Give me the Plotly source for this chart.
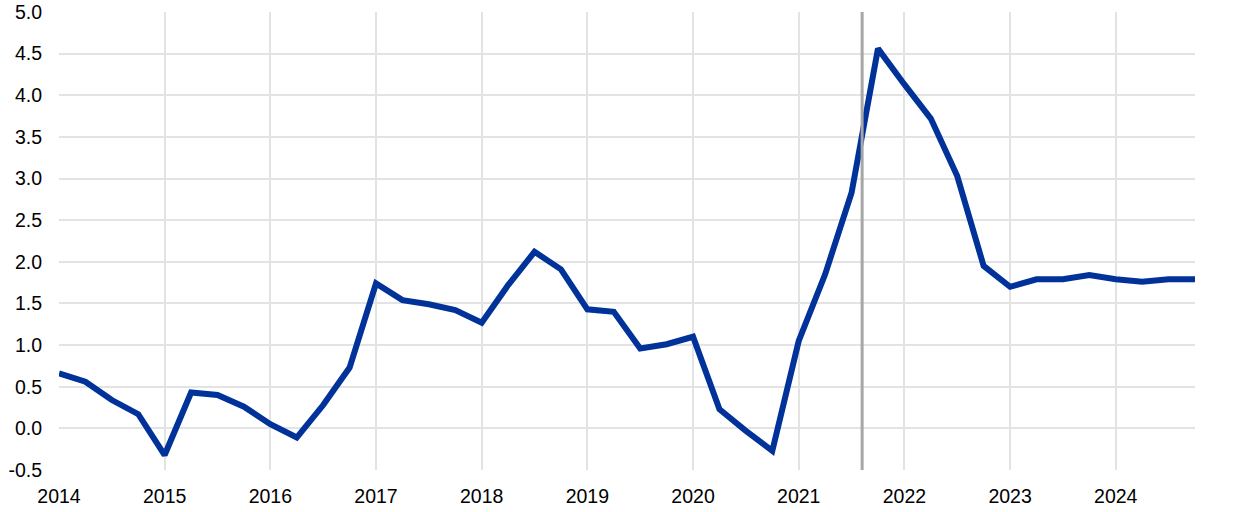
import plotly.graph_objects as go

years = list(range(2014, 2025))
quarters = [y + q * 0.25 for y in years for q in range(4)]
values = [0.66, 0.56, 0.34, 0.17,
          -0.32, 0.43, 0.40, 0.26,
          0.05, -0.11, 0.28, 0.73,
          1.74, 1.54, 1.49, 1.42,
          1.27, 1.72, 2.12, 1.91,
          1.43, 1.40, 0.96, 1.01,
          1.10, 0.23, -0.03, -0.27,
          1.05, 1.85, 2.83, 4.56,
          4.13, 3.72, 3.03, 1.95,
          1.70, 1.79, 1.79, 1.84,
          1.79, 1.76, 1.79, 1.79]
y_ticks = [-0.5 + 0.5 * i for i in range(12)]
y_tick_labels = [f"{v:.1f}" for v in y_ticks]
x_tick_labels = [str(y) for y in years]
cutoff = 2021.60

fig = go.Figure()
fig.add_trace(go.Scatter(x=quarters, y=values, mode="lines",
                         line=dict(color="#003299", width=6),
                         showlegend=False, hoverinfo="skip"))
fig.add_shape(type="line", x0=cutoff, x1=cutoff, y0=0, y1=1, yref="paper",
              line=dict(color="#a6a6a6", width=3), layer="above")

fig.update_layout(
    width=1240, height=512,
    margin=dict(l=59, r=45, t=12, b=42),
    plot_bgcolor="white", paper_bgcolor="white",
    font=dict(family="Liberation Sans, Arial, sans-serif", size=19.5, color="black"),
)
fig.update_xaxes(range=[2014, 2024.75], tickvals=years, ticktext=x_tick_labels,
                 showgrid=True, gridcolor="#e3e3e3", gridwidth=1.5, automargin=False,
                 zeroline=False, showline=False, ticks="", ticklabelstandoff=12)
fig.update_yaxes(range=[-0.5, 5.0], tickvals=y_ticks, ticktext=y_tick_labels,
                 showgrid=True, gridcolor="#e3e3e3", gridwidth=1.5, automargin=False,
                 zeroline=False, showline=False, ticks="", ticklabelstandoff=16)

fig.write_html("out.html", config={"displayModeBar": False},
               post_script="document.body.style.margin='0';document.body.style.overflow='hidden';")
